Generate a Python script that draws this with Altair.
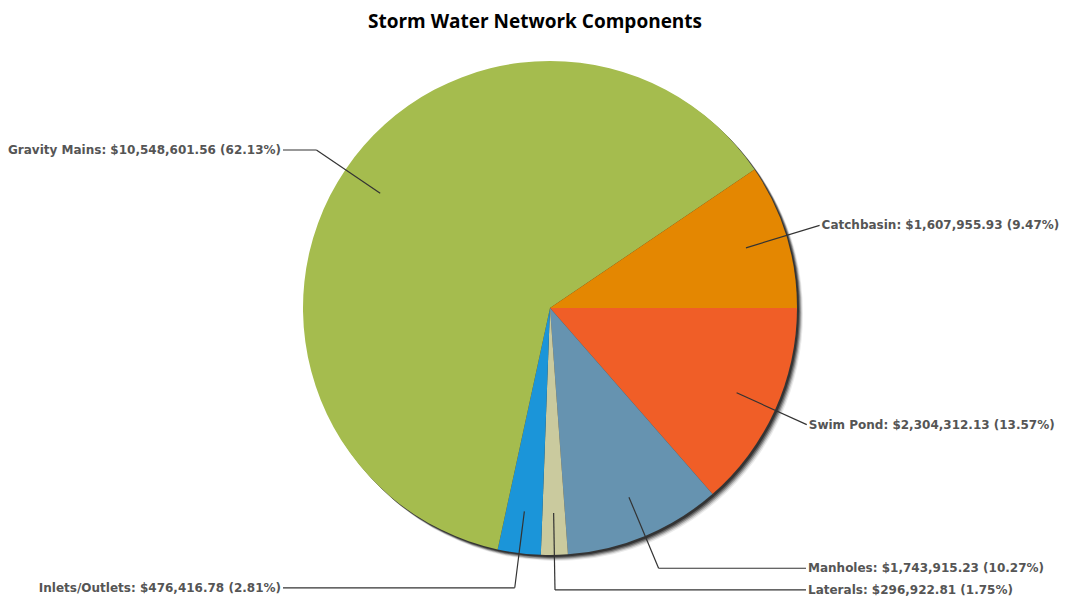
import math
import altair as alt
import pandas as pd

# ---- data ----
categories = ["Swim Pond", "Manholes", "Laterals", "Inlets/Outlets", "Gravity Mains", "Catchbasin"]
values = [2304312.13, 1743915.23, 296922.81, 476416.78, 10548601.56, 1607955.93]
colors = ["#F05E27", "#6693B0", "#CACA9E", "#1B95D9", "#A5BC4E", "#E48701"]

df = pd.DataFrame({"cat": categories, "value": values, "idx": list(range(len(categories)))})

# ---- layout constants (plot coordinates) ----
CX, CY = 542, 260
R = 247
R_IN, R_OUT = 205, 282
LEFT_END = 275
RIGHT_MIN = 798

base = alt.Chart(df)

theta = alt.Theta("value:Q", stack=True,
                  scale=alt.Scale(range=[math.pi / 2, math.pi / 2 + 2 * math.pi]))
order = alt.Order("idx:Q")

shadows = []
for d, op in [(2, 0.45), (3, 0.35), (4, 0.25), (5, 0.15), (6, 0.08)]:
    shadows.append(
        base.mark_arc(radius=R, color="#000000", opacity=op).encode(
            theta=theta, order=order, x=alt.value(CX + d), y=alt.value(CY + d)
        )
    )

pie = base.mark_arc(radius=R).encode(
    theta=theta,
    order=order,
    color=alt.Color("cat:N", scale=alt.Scale(domain=categories, range=colors), legend=None),
    x=alt.value(CX),
    y=alt.value(CY),
)

geo = (
    base.transform_joinaggregate(total="sum(value)")
    .transform_window(cum="sum(value)", sort=[alt.SortField("idx")])
    .transform_calculate(mid="(datum.cum - datum.value/2)/datum.total*2*PI + PI/2")
    .transform_calculate(
        sx=f"{CX} + {R_IN}*sin(datum.mid)",
        sy=f"{CY} - {R_IN}*cos(datum.mid)",
        ex=f"{CX} + {R_OUT}*sin(datum.mid)",
        ey=f"{CY} - {R_OUT}*cos(datum.mid)",
        right="sin(datum.mid) > 0",
        label="datum.cat + ': $' + format(datum.value, ',.2f') + ' (' + format(datum.value/datum.total, '.2%') + ')'",
    )
    .transform_calculate(
        hx=f"datum.right ? max(datum.ex, {RIGHT_MIN}) : {LEFT_END}"
    )
)

X = lambda f: alt.X(f"{f}:Q", scale=None, axis=None)
Y = lambda f: alt.Y(f"{f}:Q", scale=None, axis=None)

leader1 = geo.mark_rule(color="#333333", strokeWidth=1.2).encode(
    x=X("sx"), y=Y("sy"), x2="ex:Q", y2="ey:Q"
)
leader2 = geo.mark_rule(color="#333333", strokeWidth=1.2).encode(
    x=X("ex"), y=Y("ey"), x2="hx:Q", y2="ey:Q"
)

txt_kw = dict(font="DejaVu Sans", fontSize=12, fontWeight="bold", color="#555555", baseline="middle")
labels_r = geo.transform_filter("datum.right").mark_text(align="left", dx=2, **txt_kw).encode(
    x=X("hx"), y=Y("ey"), text="label:N"
)
labels_l = geo.transform_filter("!datum.right").mark_text(align="right", dx=-2, **txt_kw).encode(
    x=X("hx"), y=Y("ey"), text="label:N"
)

chart = alt.layer(*shadows, pie, leader1, leader2, labels_r, labels_l).properties(
    width=1054,
    height=551,
    padding={"left": 0, "right": 0, "top": 40, "bottom": 0},
    autosize=alt.AutoSizeParams(type="none"),
    title=alt.TitleParams(
        "Storm Water Network Components",
        font="Open Sans", fontSize=19, fontWeight="bold", color="#000000",
        anchor="middle", offset=16,
    ),
).configure_view(stroke=None)

chart.save("out.html", embed_options={"renderer": "svg", "actions": False})
